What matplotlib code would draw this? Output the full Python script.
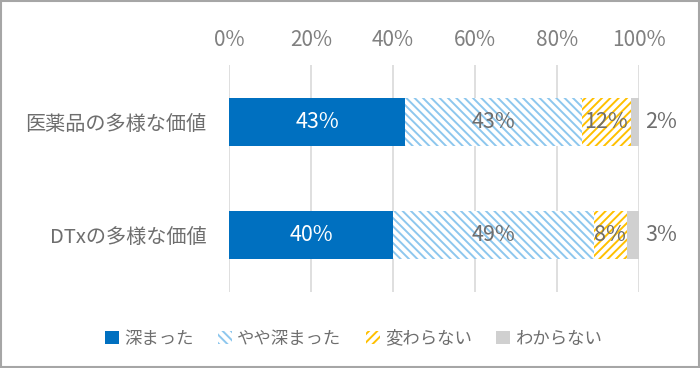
import matplotlib
matplotlib.use("Agg")
import matplotlib.pyplot as plt
from matplotlib.patches import Rectangle

plt.rcParams['font.family'] = ['Noto Sans CJK JP', 'DejaVu Sans']
plt.rcParams['hatch.linewidth'] = 1.4

categories = ['医薬品の多様な価値', 'DTxの多様な価値']
series = ['深まった', 'やや深まった', '変わらない', 'わからない']
values = [
    [43, 40],
    [43, 49],
    [12, 8],
    [2, 3],
]
ticks = [0, 20, 40, 60, 80, 100]
tick_labels = ['0%', '20%', '40%', '60%', '80%', '100%']

faces = ['#0070C0', 'white', 'white', '#D0D0D0']
edges = ['#0070C0', '#8DC7EE', '#FFC000', '#D0D0D0']
hatches = [None, '\\\\\\\\', '////', None]
text_col = '#6E6E6E'
tick_col = '#808080'

fig = plt.figure(figsize=(7, 3.68), dpi=100)
ax = fig.add_axes([0.327, 0.2065, 0.586, 0.6165])

y = list(range(len(categories)))
left = [0] * len(categories)
bars = []
for i, name in enumerate(series):
    b = ax.barh(y, values[i], left=left, height=0.42, color=faces[i],
                edgecolor=edges[i], hatch=hatches[i], linewidth=0, label=name)
    bars.append(b)
    for j, v in enumerate(values[i]):
        if i == 3:
            ax.text(left[j] + v + 1.5, y[j], f'{v}%', ha='left', va='center',
                    fontsize=15.5, color=text_col)
        else:
            ax.text(left[j] + v / 2, y[j], f'{v}%', ha='center', va='center',
                    fontsize=15.5, color='white' if i == 0 else text_col)
    left = [l + v for l, v in zip(left, values[i])]

ax.set_xlim(0, 100)
ax.set_ylim(1.5, -0.5)
ax.set_xticks(ticks)
ax.set_xticklabels(tick_labels)
ax.xaxis.tick_top()
ax.tick_params(axis='x', length=0, pad=10, labelsize=15, labelcolor=tick_col)
ax.set_yticks(y)
ax.set_yticklabels(categories)
ax.tick_params(axis='y', length=0, pad=16, labelsize=14.5, labelcolor=text_col)
ax.grid(axis='x', color='#D9D9D9', linewidth=1.2)
ax.set_axisbelow(True)
for s in ax.spines.values():
    s.set_visible(False)

fig.legend(handles=bars, labels=series, loc='center', bbox_to_anchor=(0.505, 0.08),
           ncol=4, frameon=False, fontsize=12.5, labelcolor=text_col,
           handlelength=0.8, handleheight=0.8, handletextpad=0.3, columnspacing=1.4)

fig.add_artist(Rectangle((0.002, 0.003), 0.996, 0.994, transform=fig.transFigure,
                         fill=False, edgecolor='#A6A6A6', linewidth=1.5))

fig.savefig('out.png', dpi=100)
